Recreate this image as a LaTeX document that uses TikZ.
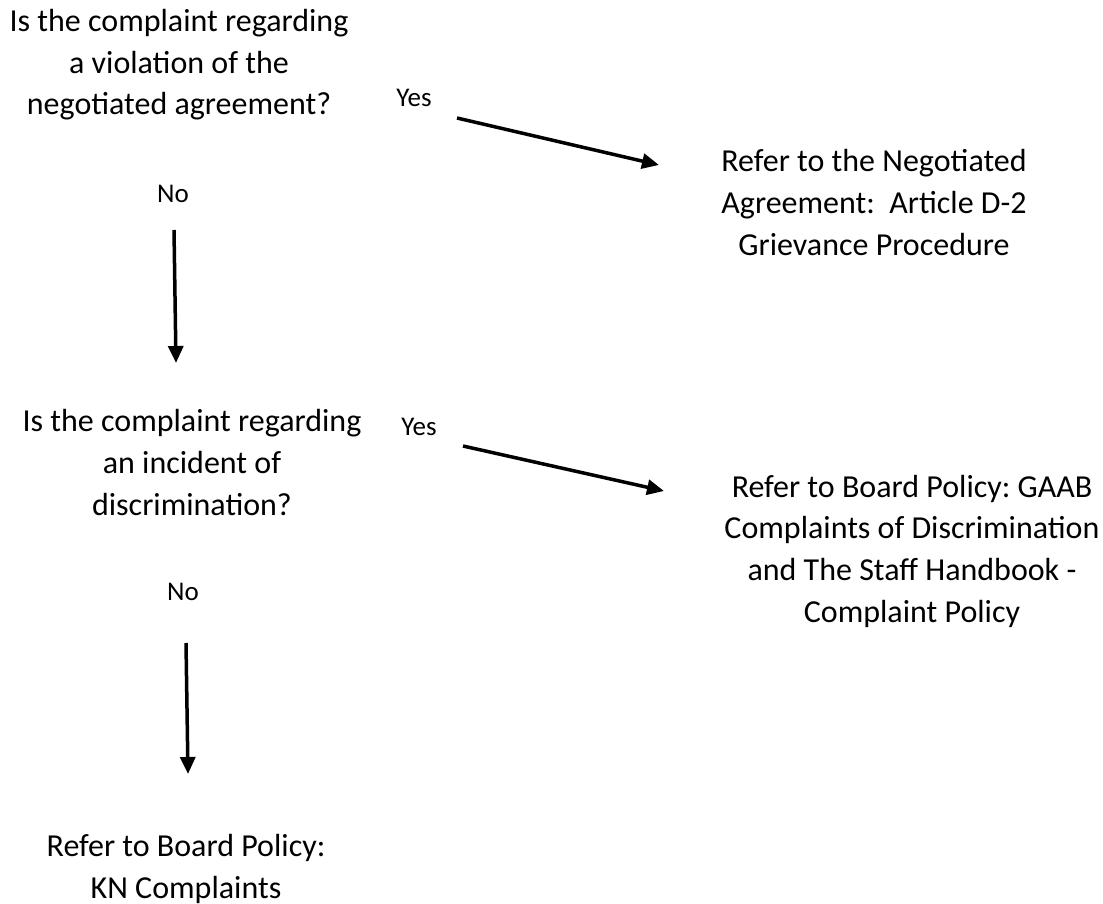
\documentclass[tikz,border=0pt]{standalone}
\usepackage{fontspec}
\setmainfont{Carlito}
\usetikzlibrary{arrows.meta}
\frenchspacing
\begin{document}
\begin{tikzpicture}[x=1pt,y=-1pt,
  txt/.style={align=center, inner sep=0pt, font=\fontsize{32}{41.6}\selectfont, anchor=base},
  lbl/.style={inner sep=0pt, font=\fontsize{27}{30}\selectfont, anchor=base},
  arr/.style={line width=3.5pt, -{Triangle[length=17pt,width=15pt]}}]
\useasboundingbox (0,0) rectangle (1103,904);
\node[txt] (q1) at (179,115) {Is the complaint regarding\\a violation of the\\negotiated agreement?};
\node[txt] (a1) at (874,255) {Refer to the Negotiated\\Agreement:\ \ Article D-2\\Grievance Procedure};
\node[txt] (q2) at (192,515) {Is the complaint regarding\\an incident of\\discrimination?};
\node[txt] (a2) at (912,622) {Refer to Board Policy: GAAB\\Complaints of Discrimination\\and The Staff Handbook -\\Complaint Policy};
\node[txt] (a3) at (186,898) {Refer to Board Policy:\\KN Complaints};
\node[lbl] (y1) at (414,107) {Yes};
\node[lbl] (n1) at (173,203) {No};
\node[lbl] (y2) at (419,435) {Yes};
\node[lbl] (n2) at (183,600) {No};
\coordinate (y1s) at (457,118);
\coordinate (y1e) at (659,165);
\coordinate (n1s) at (174,230);
\coordinate (n1e) at (176,363);
\coordinate (y2s) at (463,446);
\coordinate (y2e) at (664,491);
\coordinate (n2s) at (186,643);
\coordinate (n2e) at (188,774);
\draw[arr] (y1s) -- (y1e);
\draw[arr] (n1s) -- (n1e);
\draw[arr] (y2s) -- (y2e);
\draw[arr] (n2s) -- (n2e);
\end{tikzpicture}
\end{document}
